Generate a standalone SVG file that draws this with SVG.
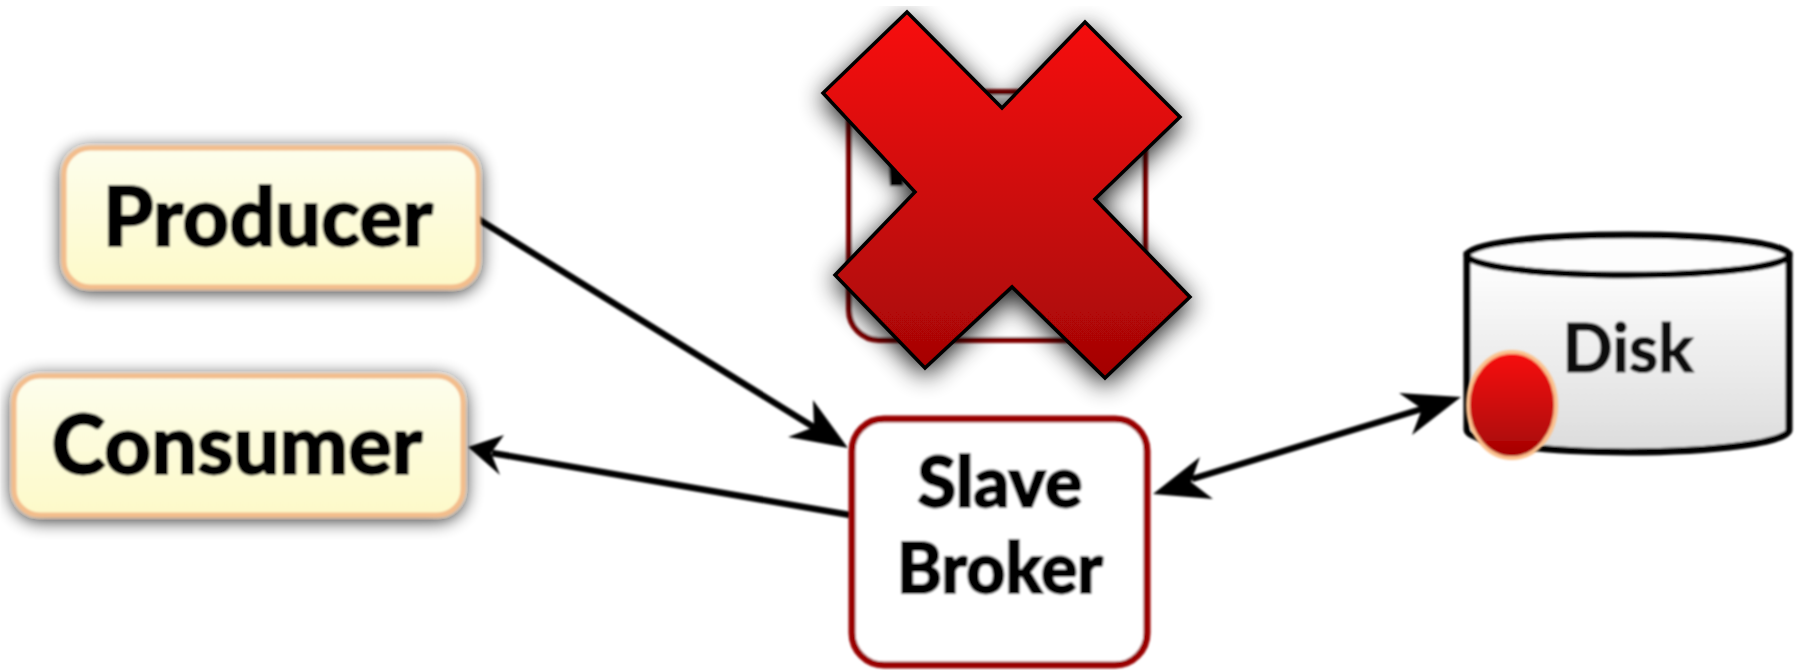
<svg xmlns="http://www.w3.org/2000/svg" width="1795" height="670" viewBox="0 0 1795 670">
<style>
text{font-family:Lato,"Open Sans","Liberation Sans",sans-serif;font-weight:900;fill:#000;stroke:#000;stroke-width:1.8;text-anchor:middle}
.big{font-size:81px}
.mid{font-size:70px}
.client{fill:url(#cream);stroke:#f3bd8c;stroke-width:5;filter:url(#shadow)}
.broker{fill:#fff;stroke:#990000;stroke-width:7}
.edge{fill:none;stroke:#000;stroke-width:6.5}
.head{fill:#000}
.soft{filter:url(#soft)}
</style>
<defs>
<linearGradient id="cream" x1="0" y1="0" x2="0" y2="1"><stop offset="0" stop-color="#fdfeec"/><stop offset="1" stop-color="#fdf9c9"/></linearGradient>
<linearGradient id="red" x1="0" y1="0" x2="0" y2="1"><stop offset="0" stop-color="#f81010"/><stop offset="1" stop-color="#a30505"/></linearGradient>
<linearGradient id="grey" x1="0" y1="0" x2="0" y2="1"><stop offset="0" stop-color="#ffffff"/><stop offset="1" stop-color="#dcdcdc"/></linearGradient>
<filter id="shadow" filterUnits="userSpaceOnUse" x="0" y="100" width="560" height="470"><feGaussianBlur in="SourceAlpha" stdDeviation="9"/><feOffset dy="3"/><feComponentTransfer><feFuncA type="linear" slope="0.85"/></feComponentTransfer><feMerge><feMergeNode/><feMergeNode in="SourceGraphic"/></feMerge></filter>
<filter id="xshadow" filterUnits="userSpaceOnUse" x="760" y="0" width="500" height="440"><feGaussianBlur in="SourceAlpha" stdDeviation="13"/><feOffset dy="6"/><feComponentTransfer><feFuncA type="linear" slope="0.9"/></feComponentTransfer><feMerge><feMergeNode/><feMergeNode in="SourceGraphic"/></feMerge></filter>
<filter id="soft" filterUnits="userSpaceOnUse" x="0" y="0" width="1795" height="670"><feGaussianBlur stdDeviation="0.85"/></filter>
</defs>
<g id="master-broker" class="soft">
<rect class="broker" x="849" y="92" width="296" height="248" rx="30" style="stroke:#800000;stroke-width:6"/>
<path d="M889 162L905 170L903 186L890 186Z" fill="#000"/>
</g>
<g id="connectors" class="soft">
<path class="edge" d="M473 216L820 431"/>
<path class="head" d="M848 448L788 437L814 427L813 400Z"/>
<path class="edge" d="M850 515L492 453"/>
<path class="head" d="M468 447L504 435L491 453L500 475Z"/>
<path class="edge" d="M1192 479L1425 408"/>
<path class="head" d="M1461 397L1399 393L1422 409L1412 435Z"/>
<path class="head" d="M1153 494L1200 457L1191 482L1213 499Z"/>
</g>
<g id="producer" class="soft">
<rect class="client" x="64" y="148" width="414" height="139" rx="26"/>
<text class="big" x="268" y="246" textLength="330" lengthAdjust="spacingAndGlyphs">Producer</text>
</g>
<g id="consumer" class="soft">
<rect class="client" x="14" y="376" width="449" height="139" rx="26"/>
<text class="big" x="237" y="474" textLength="371" lengthAdjust="spacingAndGlyphs">Consumer</text>
</g>
<g id="slave-broker" class="soft">
<rect class="broker" x="852" y="419" width="295" height="246" rx="32"/>
<text class="mid" x="1000" y="507" textLength="165" lengthAdjust="spacingAndGlyphs">Slave</text>
<text class="mid" x="1000" y="593" textLength="206" lengthAdjust="spacingAndGlyphs">Broker</text>
</g>
<g id="disk" class="soft">
<path d="M1467 255V430C1467 442 1540 452 1628 452S1789 442 1789 430V255Z" fill="url(#grey)" stroke="#000" stroke-width="7"/>
<ellipse cx="1628" cy="255" rx="161" ry="20" fill="#fdfdfd" stroke="#000" stroke-width="7"/>
<text class="mid" x="1628" y="372" textLength="131" lengthAdjust="spacingAndGlyphs" style="font-size:66px;font-weight:700;fill:#111;stroke:#111;stroke-width:1.2">Disk</text>
</g>
<g id="disk-fault" class="soft">
<ellipse cx="1512" cy="405" rx="44" ry="53" fill="url(#red)" stroke="#fbc08c" stroke-width="4"/>
</g>
<g id="failure-cross">
<path d="M907 12L1002 108L1085 22L1180 117L1095 199L1190 297L1105 378L1012 287L925 368L835 275L915 192L823 93Z" fill="url(#red)" stroke="#000" stroke-width="3.5" filter="url(#xshadow)"/>
</g>
</svg>
